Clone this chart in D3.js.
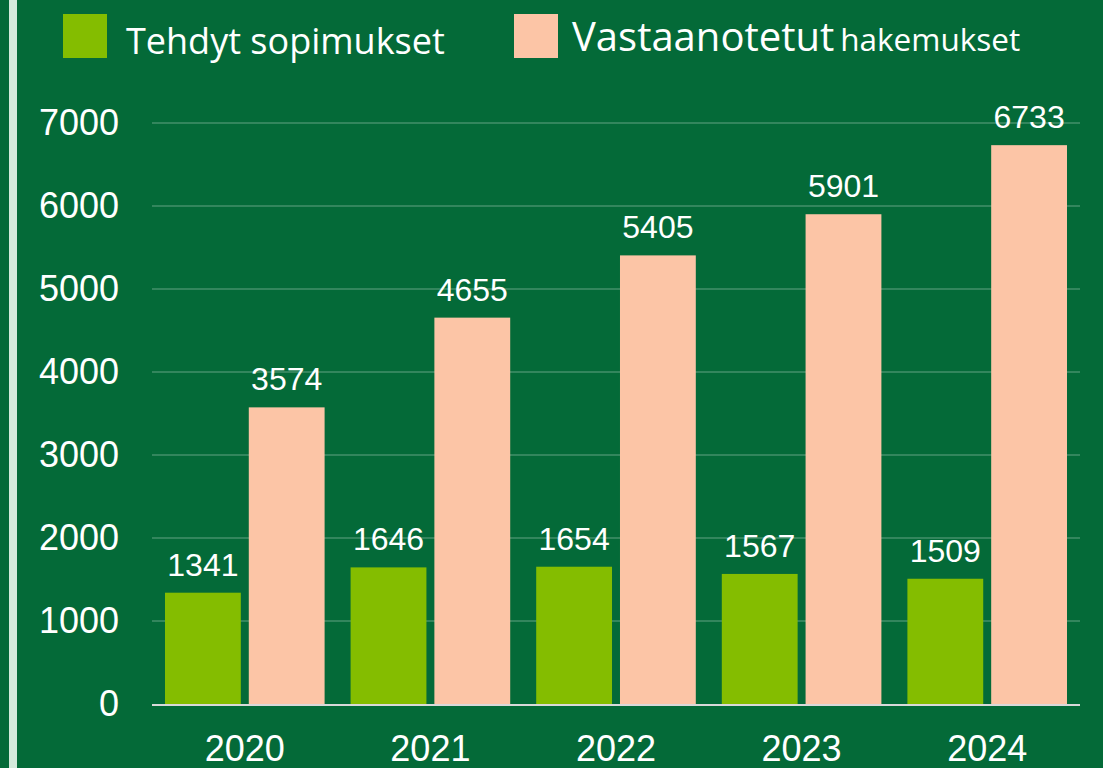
<!DOCTYPE html>
<html>
<head>
<meta charset="utf-8">
<script src="https://cdn.jsdelivr.net/npm/d3@7"></script>
<style>
  html, body { margin: 0; padding: 0; background: #046a38; }
  svg { display: block; }
</style>
</head>
<body>
<svg id="chart" width="1103" height="768"></svg>
<script>
const svg = d3.select('#chart');
const width = +svg.attr('width');
const height = +svg.attr('height');

// data
const years = ['2020', '2021', '2022', '2023', '2024'];
const seriesNames = ['Tehdyt sopimukset', 'Vastaanotetut hakemukset'];
const contracts = [1341, 1646, 1654, 1567, 1509];
const applications = [3574, 4655, 5405, 5901, 6733];
const yTicks = [0, 1000, 2000, 3000, 4000, 5000, 6000, 7000];

const colors = ['#84bd00', '#fcc5a6'];
const margin = { top: 123, right: 23, bottom: 64, left: 152 };

const table = years.map((y, i) => ({ year: y, values: [contracts[i], applications[i]] }));

// background + left strip
svg.append('rect').attr('width', width).attr('height', height).attr('fill', '#046a38');
svg.append('rect').attr('x', 9).attr('y', 0).attr('width', 8).attr('height', height).attr('fill', '#d5eadc');

const x0 = d3.scaleBand()
  .domain(years)
  .range([margin.left, width - margin.right])
  .padding(0);

// two bars inside each category, 13px inset on each side
const x1 = d3.scaleBand()
  .domain([0, 1])
  .range([13, x0.bandwidth() - 13])
  .paddingInner(0.095);

const y = d3.scaleLinear()
  .domain([0, 7000])
  .range([height - margin.bottom, margin.top]);

// gridlines
svg.append('g')
  .selectAll('line')
  .data(yTicks.filter(d => d > 0))
  .join('line')
    .attr('x1', margin.left)
    .attr('x2', width - margin.right)
    .attr('y1', d => y(d))
    .attr('y2', d => y(d))
    .attr('stroke', 'rgba(255,255,255,0.25)')
    .attr('stroke-width', 1.5);

// y axis labels
const yAxis = d3.axisLeft(y).tickValues(yTicks).tickFormat(d3.format('d')).tickSize(0).tickPadding(33);
svg.append('g')
  .attr('transform', `translate(${margin.left},0)`)
  .call(yAxis)
  .call(g => g.select('.domain').remove())
  .selectAll('text')
    .attr('fill', '#fff')
    .attr('font-family', 'Liberation Sans, Arial, sans-serif')
    .attr('font-size', 36);

// bars
const groups = svg.append('g')
  .selectAll('g')
  .data(table)
  .join('g')
    .attr('transform', d => `translate(${x0(d.year)},0)`);

groups.selectAll('rect')
  .data(d => d.values)
  .join('rect')
    .attr('x', (d, i) => x1(i))
    .attr('width', x1.bandwidth())
    .attr('y', d => y(d))
    .attr('height', d => y(0) - y(d))
    .attr('fill', (d, i) => colors[i]);

groups.selectAll('text')
  .data(d => d.values)
  .join('text')
    .attr('x', (d, i) => x1(i) + x1.bandwidth() / 2)
    .attr('y', d => y(d) - 17)
    .attr('text-anchor', 'middle')
    .attr('fill', '#fff')
    .attr('font-family', 'Liberation Sans, Arial, sans-serif')
    .attr('font-size', 32)
    .text(d => d);

// baseline
svg.append('line')
  .attr('x1', margin.left)
  .attr('x2', width - margin.right)
  .attr('y1', y(0) + 1)
  .attr('y2', y(0) + 1)
  .attr('stroke', '#d9d9d9')
  .attr('stroke-width', 2);

// x axis labels
const xAxis = d3.axisBottom(x0).tickSize(0).tickPadding(31);
svg.append('g')
  .attr('transform', `translate(0,${y(0)})`)
  .call(xAxis)
  .call(g => g.select('.domain').remove())
  .selectAll('text')
    .attr('fill', '#fff')
    .attr('font-family', 'Liberation Sans, Arial, sans-serif')
    .attr('font-size', 36);

// legend
const legend = svg.append('g');
legend.append('rect').attr('x', 63).attr('y', 14).attr('width', 44).attr('height', 44).attr('fill', colors[0]);
legend.append('text')
  .attr('x', 126).attr('y', 54)
  .attr('fill', '#fff')
  .attr('font-family', 'Open Sans, Noto Sans, sans-serif')
  .attr('font-size', 36)
  .text(seriesNames[0]);

legend.append('rect').attr('x', 514).attr('y', 14).attr('width', 44).attr('height', 44).attr('fill', colors[1]);
const t2 = legend.append('text')
  .attr('x', 572).attr('y', 51)
  .attr('fill', '#fff')
  .attr('font-family', 'Open Sans, Noto Sans, sans-serif');
const parts = seriesNames[1].split(' ');
t2.append('tspan').attr('font-size', 40).text(parts[0]);
t2.append('tspan').attr('font-size', 31.5).attr('dx', 6).text(parts[1]);
</script>
</body>
</html>
